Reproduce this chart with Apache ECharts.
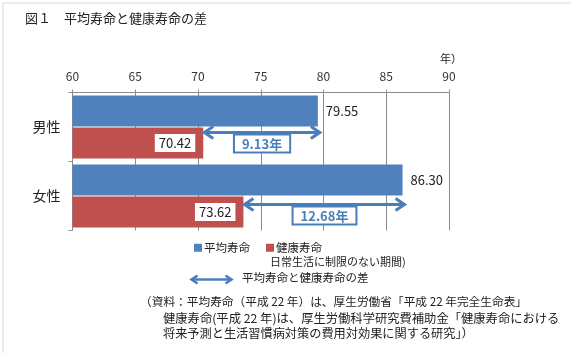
<!DOCTYPE html>
<html>
<head>
<meta charset="utf-8">
<script src="https://cdn.jsdelivr.net/npm/echarts@6/dist/echarts.min.js"></script>
<style>
    html, body { margin: 0; padding: 0; background: #fff; }
    #chart { width: 571px; height: 353px; }
</style>
</head>
<body>
<div id="chart"></div>
<script>
    // 図１ 平均寿命と健康寿命の差（平成22年）
    var categories = ['男性', '女性'];
    var lifeExpectancy = [79.55, 86.30];      // 平均寿命
    var healthyLife = [70.42, 73.62];         // 健康寿命
    var xTicks = [60, 65, 70, 75, 80, 85, 90];

    var FONT = '"Noto Sans CJK JP", "Noto Sans", sans-serif';
    var BLUE = '#4f81bd';
    var RED = '#c0504d';
    var ARROW = '#4a7ebb';

    // 差の矢印データ: [健康寿命, 平均寿命, カテゴリ番号]
    var gapData = categories.map(function (c, i) {
        return [healthyLife[i], lifeExpectancy[i], i];
    });

    function arrowHead(x, y, dir) {
        // dir: -1 左向き, 1 右向き
        return {
            type: 'polyline',
            shape: {points: [[x - dir * 9, y - 6], [x, y], [x - dir * 9, y + 6]]},
            style: {stroke: ARROW, lineWidth: 3, fill: null}
        };
    }

    function renderGap(params, api) {
        var i = api.value(2);
        var p1 = api.coord([api.value(0), i]);
        var p2 = api.coord([api.value(1), i]);
        var yOff = [5.5, 8.5][i];
        var y = p1[1] + yOff;
        var x1 = p1[0] + 1, x2 = p2[0] + 2;
        var gap = (api.value(1) - api.value(0)).toFixed(2) + '年';
        return {
            type: 'group',
            children: [
                {
                    type: 'line',
                    shape: {x1: x1 + 2, y1: y, x2: x2 - 2, y2: y},
                    style: {stroke: ARROW, lineWidth: 3}
                },
                arrowHead(x1, y, -1),
                arrowHead(x2, y, 1),
                {
                    type: 'text',
                    x: (x1 + x2) / 2,
                    y: y + 3,
                    style: {
                        text: gap,
                        fill: ARROW,
                        font: 'bold 13px ' + FONT,
                        align: 'center',
                        verticalAlign: 'top',
                        backgroundColor: '#fff',
                        borderColor: ARROW,
                        borderWidth: 2,
                        padding: [2, 7, 1, 7]
                    }
                }
            ]
        };
    }

    var myChart = echarts.init(document.getElementById('chart'));
    myChart.setOption({
        animation: false,
        textStyle: {fontFamily: FONT},
        title: {
            text: '図１　平均寿命と健康寿命の差',
            left: 20,
            top: 7,
            textStyle: {fontSize: 13, fontWeight: 'normal', color: '#222', fontFamily: FONT}
        },
        legend: {
            left: 189,
            top: 237,
            icon: 'rect',
            itemWidth: 8,
            itemHeight: 8,
            itemGap: 16,
            data: ['平均寿命', '健康寿命'],
            textStyle: {fontSize: 11.5, color: '#222', padding: [0, 0, 0, -3]}
        },
        grid: {
            left: 72.5,
            right: 122,
            top: 92.5,
            height: 138,
            containLabel: false
        },
        xAxis: {
            type: 'value',
            position: 'top',
            min: xTicks[0],
            max: xTicks[xTicks.length - 1],
            interval: 5,
            axisLine: {show: true, lineStyle: {color: '#8c8c8c'}},
            axisTick: {show: true, length: 3, lineStyle: {color: '#8c8c8c'}},
            axisLabel: {fontSize: 12, color: '#333', margin: 10},
            splitLine: {show: true, lineStyle: {color: '#8c8c8c'}}
        },
        yAxis: {
            type: 'category',
            inverse: true,
            data: categories,
            axisLine: {show: true, lineStyle: {color: '#8c8c8c'}},
            axisTick: {show: true, length: 4, lineStyle: {color: '#8c8c8c'}},
            axisLabel: {fontSize: 14, color: '#222', margin: 12}
        },
        series: [
            {
                name: '平均寿命',
                type: 'bar',
                data: lifeExpectancy,
                barWidth: 31,
                barGap: '3%',
                itemStyle: {color: BLUE},
                label: {
                    show: true,
                    position: 'right',
                    distance: 8,
                    fontSize: 13,
                    color: '#222',
                    formatter: function (p) { return p.value.toFixed(2); }
                }
            },
            {
                name: '健康寿命',
                type: 'bar',
                data: healthyLife,
                barWidth: 31,
                barGap: '3%',
                itemStyle: {color: RED},
                label: {
                    show: true,
                    position: 'insideRight',
                    distance: 8,
                    fontSize: 13,
                    color: '#222',
                    backgroundColor: '#fff',
                    padding: [3, 4, 2, 4],
                    formatter: function (p) { return p.value.toFixed(2); }
                }
            },
            {
                name: '差',
                type: 'custom',
                renderItem: renderGap,
                data: gapData,
                z: 5,
                silent: true
            }
        ],
        graphic: [
            {
                type: 'rect',
                shape: {x: 3, y: 3, width: 600, height: 400},
                style: {fill: null, stroke: '#d9d9d9', lineWidth: 1},
                silent: true
            },
            {
                type: 'text', left: 440, top: 53,
                style: {text: '年）', font: '11px ' + FONT, fill: '#222'}
            },
            {
                type: 'text', left: 270, top: 256,
                style: {text: '日常生活に制限のない期間)', font: '11px ' + FONT, fill: '#222'}
            },
            {
                type: 'group', left: 189, top: 273,
                children: [
                    {type: 'line', shape: {x1: 2, y1: 6, x2: 42, y2: 6}, style: {stroke: ARROW, lineWidth: 2.5}},
                    {type: 'polyline', shape: {points: [[8, 2], [2, 6], [8, 10]]}, style: {stroke: ARROW, lineWidth: 2.5, fill: null}},
                    {type: 'polyline', shape: {points: [[36, 2], [42, 6], [36, 10]]}, style: {stroke: ARROW, lineWidth: 2.5, fill: null}}
                ]
            },
            {
                type: 'text', left: 242, top: 272,
                style: {text: '平均寿命と健康寿命の差', font: '11.5px ' + FONT, fill: '#222'}
            },
            {
                type: 'text', left: 140, top: 296,
                style: {text: '（資料：平均寿命（平成 22 年）は、厚生労働省「平成 22 年完全生命表」', font: '11.7px ' + FONT, fill: '#222'}
            },
            {
                type: 'text', left: 163, top: 312,
                style: {text: '健康寿命(平成 22 年)は、厚生労働科学研究費補助金「健康寿命における', font: '12.3px ' + FONT, fill: '#222'}
            },
            {
                type: 'text', left: 163, top: 327,
                style: {text: '将来予測と生活習慣病対策の費用対効果に関する研究」）', font: '12.2px ' + FONT, fill: '#222'}
            }
        ]
    });
</script>
</body>
</html>
